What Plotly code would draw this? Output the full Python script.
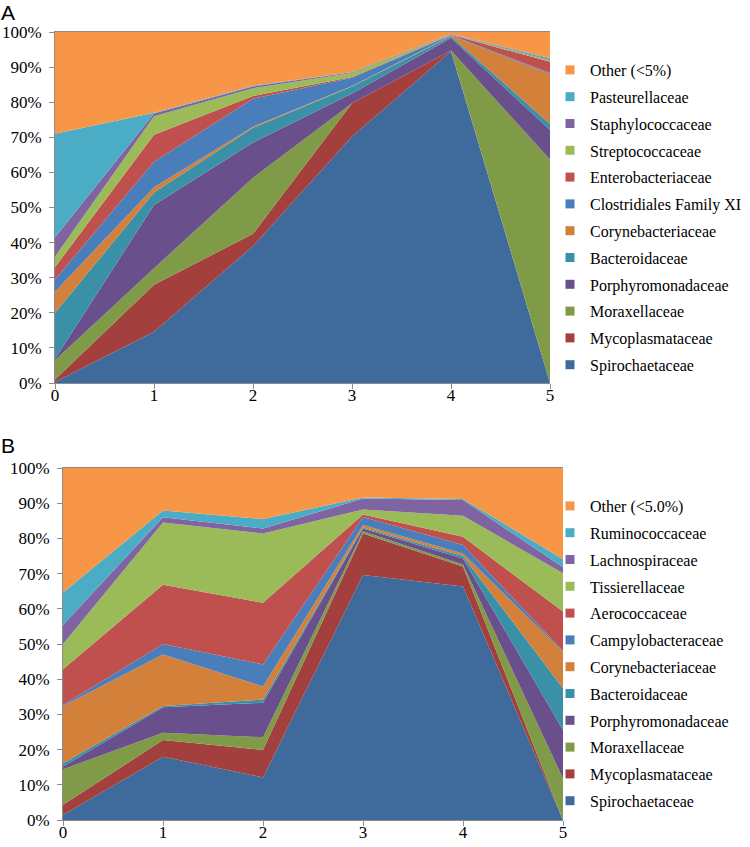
import plotly.graph_objects as go

# ---------------- data ----------------
x_vals = [0, 1, 2, 3, 4, 5]
x_ticks = ["0", "1", "2", "3", "4", "5"]
y_vals = [0, 10, 20, 30, 40, 50, 60, 70, 80, 90, 100]
y_ticks = ["0%", "10%", "20%", "30%", "40%", "50%", "60%", "70%", "80%", "90%", "100%"]

# Panel A (bottom of stack first), percent per sample
names_a = ["Spirochaetaceae", "Mycoplasmataceae", "Moraxellaceae", "Porphyromonadaceae",
           "Bacteroidaceae", "Corynebacteriaceae", "Clostridiales Family XI",
           "Enterobacteriaceae", "Streptococcaceae", "Staphylococcaceae",
           "Pasteurellaceae", "Other (<5%)"]
spiro_a   = [0.3, 14.6, 39.0, 70.2, 94.5, 0.0]
myco_a    = [0.7, 13.4, 3.5, 9.5, 0.2, 0.0]
morax_a   = [5.5, 4.7, 16.0, 0.0, 0.0, 63.7]
porph_a   = [0.4, 18.0, 10.0, 2.8, 3.6, 8.4]
bact_a    = [13.1, 3.6, 4.2, 2.0, 0.5, 1.7]
coryne_a  = [6.0, 1.5, 0.3, 0.1, 0.1, 14.2]
clostr_a  = [3.5, 7.2, 8.0, 2.4, 0.2, 0.3]
entero_a  = [3.5, 7.7, 0.8, 0.2, 0.1, 3.2]
strep_a   = [3.0, 5.3, 2.2, 1.1, 0.1, 0.5]
staph_a   = [5.5, 0.8, 0.5, 0.2, 0.1, 0.3]
paste_a   = [29.5, 0.2, 0.2, 0.1, 0.1, 0.3]
other_a   = [29.0, 23.0, 15.3, 11.4, 0.5, 7.4]
values_a = [spiro_a, myco_a, morax_a, porph_a, bact_a, coryne_a, clostr_a,
            entero_a, strep_a, staph_a, paste_a, other_a]

# Panel B
names_b = ["Spirochaetaceae", "Mycoplasmataceae", "Moraxellaceae", "Porphyromonadaceae",
           "Bacteroidaceae", "Corynebacteriaceae", "Campylobacteraceae",
           "Aerococcaceae", "Tissierellaceae", "Lachnospiraceae",
           "Ruminococcaceae", "Other (<5.0%)"]
spiro_b   = [1.4, 18.0, 12.1, 69.6, 66.3, 0.0]
myco_b    = [2.9, 4.7, 7.8, 11.8, 5.7, 0.0]
morax_b   = [10.1, 2.1, 3.6, 0.6, 0.6, 11.8]
porph_b   = [0.8, 7.2, 9.8, 0.8, 1.7, 13.8]
bact_b    = [0.9, 0.4, 0.9, 0.3, 0.7, 11.8]
coryne_b  = [16.3, 14.6, 3.7, 0.7, 0.7, 10.4]
campy_b   = [0.3, 3.0, 6.3, 2.3, 2.4, 0.2]
aero_b    = [10.1, 16.8, 17.5, 0.7, 2.4, 11.2]
tissi_b   = [7.2, 17.7, 19.7, 1.4, 5.9, 10.9]
lachno_b  = [5.4, 1.5, 1.4, 3.1, 4.5, 1.7]
rumino_b  = [9.2, 1.9, 2.7, 0.3, 0.3, 2.3]
other_b   = [35.4, 12.1, 14.5, 8.4, 8.8, 25.9]
values_b = [spiro_b, myco_b, morax_b, porph_b, bact_b, coryne_b, campy_b,
            aero_b, tissi_b, lachno_b, rumino_b, other_b]

colors = ["#3F6A9C", "#A33F3C", "#7F9B48", "#694F8B", "#3A90A6", "#D3803A",
          "#4A7EBB", "#C0504D", "#9BBB59", "#8064A2", "#4BACC6", "#F79646"]

# ---------------- figure ----------------
W, H = 750, 847
fig = go.Figure()

def add_panel(names, values, xa, ya, legend_id, stack):
    for name, vals, col in zip(names, values, colors):
        fig.add_trace(go.Scatter(
            x=x_vals, y=vals, name=name, stackgroup=stack, mode="lines",
            line=dict(width=0, color=col), fillcolor=col,
            xaxis=xa, yaxis=ya, showlegend=False, hoverinfo="skip"))
    # legend entries (top of stack first)
    for name, col in list(zip(names, colors))[::-1]:
        fig.add_trace(go.Scatter(
            x=[None], y=[None], name=name, mode="markers",
            marker=dict(symbol="square", size=9, color=col),
            xaxis=xa, yaxis=ya, legend=legend_id, legendgroup=legend_id + name,
            showlegend=True))

add_panel(names_a, values_a, "x", "y", "legend", "A")
add_panel(names_b, values_b, "x2", "y2", "legend2", "B")

def px_x(p):
    return p / W

def px_y(p):
    return 1 - p / H

axis_font = dict(family="Liberation Serif", size=17, color="black")
xcommon = dict(range=[0, 5], tickmode="array", tickvals=x_vals, ticktext=x_ticks,
               showgrid=False, zeroline=False, automargin=False,
               showline=True, linecolor="#8C8C8C", linewidth=1, mirror=True,
               ticks="outside", ticklen=5, tickcolor="#8C8C8C", tickfont=axis_font,
               ticklabelstandoff=-8)
ycommon = dict(range=[0, 100], tickmode="array", tickvals=y_vals, ticktext=y_ticks,
               showgrid=False, zeroline=False, automargin=False,
               showline=True, linecolor="#8C8C8C", linewidth=1,
               ticks="outside", ticklen=5, tickcolor="#8C8C8C", tickfont=axis_font,
               ticklabelstandoff=4)

legend_common = dict(font=dict(family="Liberation Serif", size=16, color="black"),
                     tracegroupgap=3, itemwidth=30, bgcolor="rgba(0,0,0,0)",
                     xanchor="left", yanchor="top", traceorder="grouped")

fig.update_layout(
    width=W, height=H, margin=dict(l=0, r=0, t=0, b=0, autoexpand=False),
    font=dict(family="Liberation Serif", color="black"),
    paper_bgcolor="white", plot_bgcolor="white",
    xaxis=dict(domain=[px_x(55), px_x(550)], anchor="y", **xcommon),
    yaxis=dict(domain=[px_y(383), px_y(32)], anchor="x", **ycommon),
    xaxis2=dict(domain=[px_x(63), px_x(563)], anchor="y2", **xcommon),
    yaxis2=dict(domain=[px_y(820), px_y(468)], anchor="x2", **ycommon),
    legend=dict(x=px_x(550), y=px_y(53), **legend_common),
    legend2=dict(x=px_x(550), y=px_y(489), **legend_common),
    annotations=[
        dict(text="A", x=0, y=1, xref="paper", yref="paper", xanchor="left", yanchor="top",
             showarrow=False, font=dict(family="Liberation Sans", size=21, color="black"),
             xshift=0, yshift=0, borderpad=0),
        dict(text="B", x=0, y=px_y(433), xref="paper", yref="paper", xanchor="left", yanchor="top",
             showarrow=False, font=dict(family="Liberation Sans", size=21, color="black"),
             xshift=0, borderpad=0),
    ],
    showlegend=True,
)

fig.write_html("out.html", config={"displayModeBar": False},
               post_script="document.body.style.margin='0';document.body.style.overflow='hidden';")
